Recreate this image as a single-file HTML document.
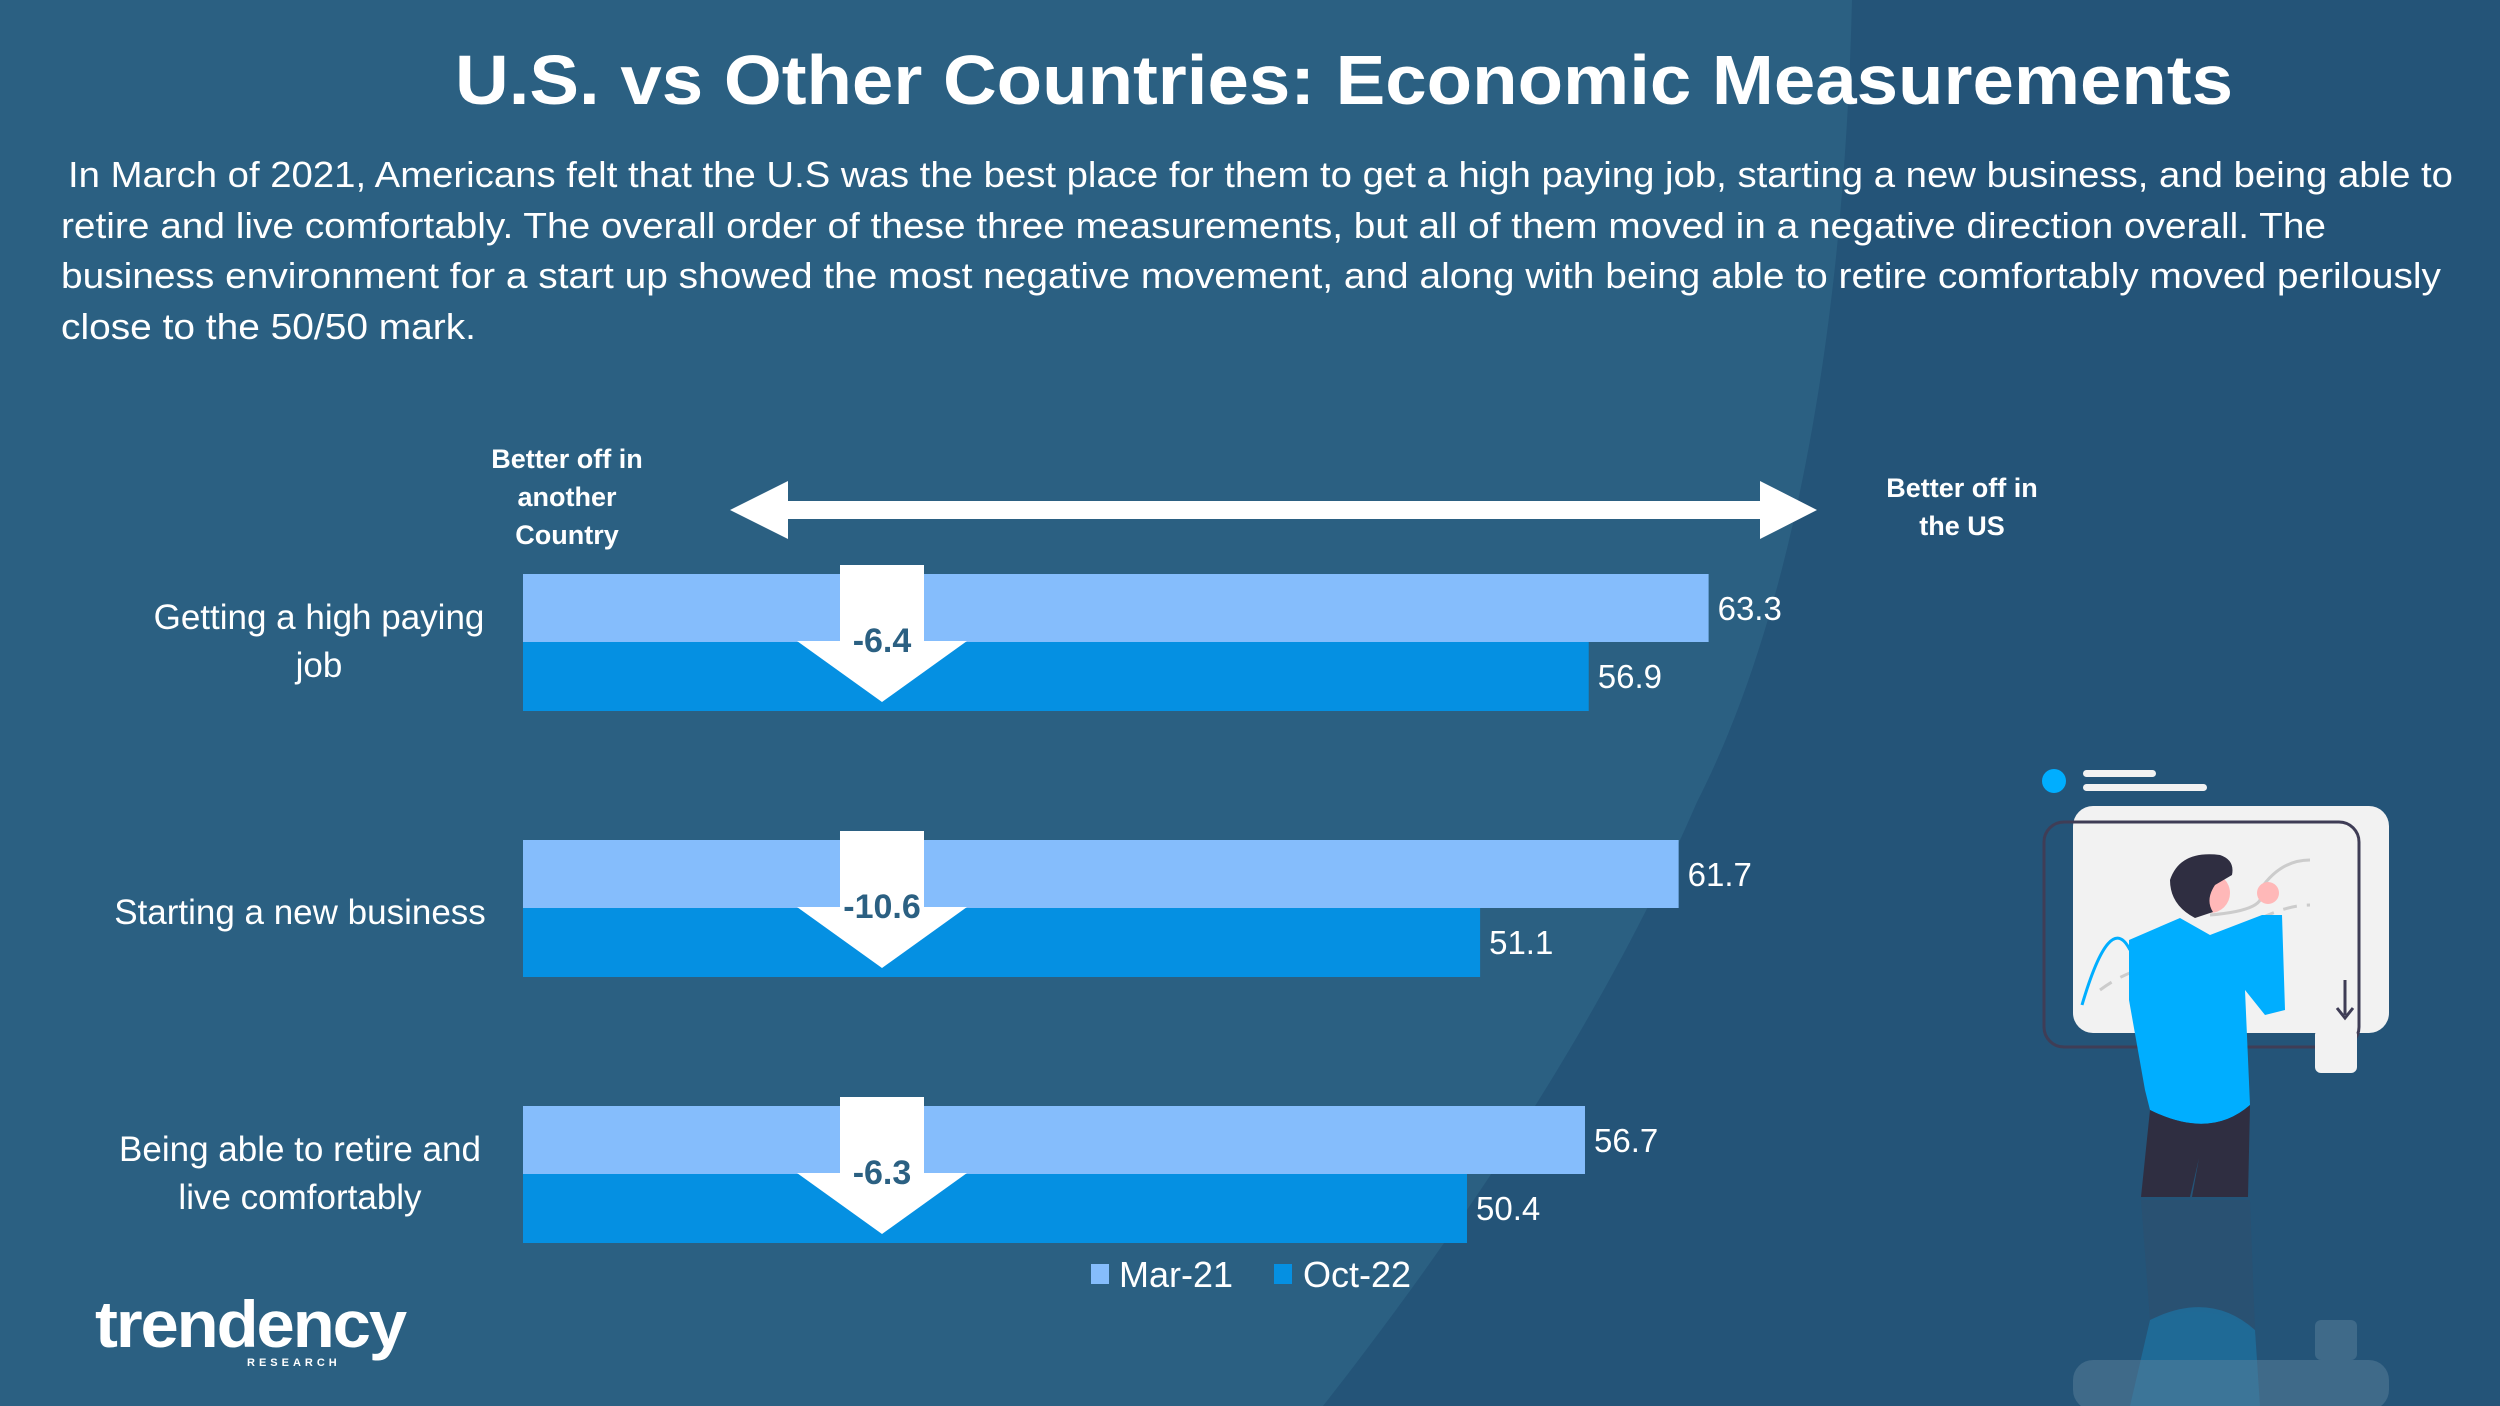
<!DOCTYPE html>
<html><head><meta charset="utf-8"><style>
html,body{margin:0;padding:0;width:2500px;height:1406px;overflow:hidden;background:#2b6082}
svg{display:block}
text{font-family:"Liberation Sans",sans-serif}
</style></head><body>
<svg id="chart" width="2500" height="1406" viewBox="0 0 2500 1406">
<rect x="0" y="0" width="2500" height="1406" fill="#2b6082"/>
<path d="M1852 0 C1845 300 1800 600 1697 802 C1620 980 1500 1180 1323 1406 L2500 1406 L2500 0 Z" fill="#245478"/>
<text x="1344" y="104" text-anchor="middle" font-size="70" font-weight="bold" fill="#fff" textLength="1778" lengthAdjust="spacingAndGlyphs">U.S. vs Other Countries: Economic Measurements</text>
<g fill="#fff" font-size="36">
<text x="68" y="187" textLength="2385" lengthAdjust="spacingAndGlyphs">In March of 2021, Americans felt that the U.S was the best place for them to get a high paying job, starting a new business, and being able to</text>
<text x="61" y="238" textLength="2265" lengthAdjust="spacingAndGlyphs">retire and live comfortably. The overall order of these three measurements, but all of them moved in a negative direction overall. The</text>
<text x="61" y="288" textLength="2380" lengthAdjust="spacingAndGlyphs">business environment for a start up showed the most negative movement, and along with being able to retire comfortably moved perilously</text>
<text x="61" y="339" textLength="415" lengthAdjust="spacingAndGlyphs">close to the 50/50 mark.</text>
</g>
<g fill="#fff" font-size="27" font-weight="bold" text-anchor="middle">
<text x="567" y="468">Better off in</text><text x="567" y="506">another</text><text x="567" y="544">Country</text>
</g>
<g fill="#fff" font-size="27" font-weight="bold" text-anchor="middle">
<text x="1962" y="497">Better off in</text><text x="1962" y="535">the US</text>
</g>
<polygon points="730,510 788,481 788,501 1760,501 1760,481 1817,510 1760,539 1760,519 788,519 788,539" fill="#fff"/>
<g id="bars"></g>
<g font-size="36" fill="#fff">
<rect x="1091" y="1264" width="18" height="20" fill="#85bdfc"/>
<text x="1119" y="1287">Mar-21</text>
<rect x="1274" y="1264" width="18" height="20" fill="#0590e2"/>
<text x="1303" y="1287">Oct-22</text>
</g>
<g>
<text x="95" y="1347" font-size="66" font-weight="bold" fill="#fff" textLength="310" lengthAdjust="spacingAndGlyphs" letter-spacing="-2">trendency</text>
<text x="247" y="1366" font-size="11" font-weight="bold" fill="#fff" letter-spacing="4">RESEARCH</text>
</g>
<g>
<circle cx="2054" cy="781" r="12" fill="#00aeff"/>
<rect x="2083" y="770" width="73" height="7" rx="3.5" fill="#f2f2f2"/>
<rect x="2083" y="784" width="124" height="7" rx="3.5" fill="#f2f2f2"/>
<rect x="2073" y="806" width="316" height="227" rx="20" fill="#f2f2f2"/>
<rect x="2044" y="822" width="315" height="225" rx="20" fill="none" stroke="#3f3d56" stroke-width="3"/>
<path d="M2082 1005 Q2110 910 2130 950" stroke="#00aeff" stroke-width="3" fill="none"/>
<path d="M2210 915 Q2270 910 2260 890 Q2280 860 2310 860" stroke="#ccc" stroke-width="3" fill="none"/>
<path d="M2100 990 Q2140 960 2200 960 M2240 930 Q2280 905 2310 905" stroke="#ccc" stroke-width="3" fill="none" stroke-dasharray="14 10"/>
<path d="M2129 940 L2180 918 L2210 935 L2262 915 L2282 915 L2285 1010 L2265 1015 L2245 990 L2250 1105 Q2210 1140 2150 1110 L2145 1090 L2129 1000 Z" fill="#00aeff"/>
<path d="M2150 1110 Q2210 1140 2250 1105 L2248 1197 L2192 1197 L2199 1158 L2190 1197 L2141 1197 Z" fill="#2f2e41"/>
<circle cx="2210" cy="893" r="20" fill="#ffb8b8"/>
<circle cx="2268" cy="893" r="11" fill="#ffb8b8"/>
<path d="M2170 880 Q2180 850 2220 855 Q2235 860 2232 875 L2215 885 Q2205 900 2213 912 L2195 918 Q2170 905 2170 880 Z" fill="#2f2e41"/>
<rect x="2315" y="1029" width="42" height="44" rx="6" fill="#f2f2f2"/>
<path d="M2345 980 L2345 1015 M2337 1008 L2345 1018 L2353 1008" stroke="#3f3d56" stroke-width="3" fill="none"/>
<path d="M2141 1200 L2250 1200 L2255 1330 Q2210 1300 2150 1320 Z" fill="#2a5070" opacity="0.8"/>
<path d="M2130 1406 L2150 1320 Q2210 1290 2255 1330 L2260 1406 Z" fill="#1e6f9e" opacity="0.8"/>
<rect x="2073" y="1360" width="316" height="50" rx="20" fill="#5a7f9a" opacity="0.5"/>
<rect x="2315" y="1320" width="42" height="40" rx="6" fill="#5a7f9a" opacity="0.5"/>
</g>
</svg>
<script>
const categories = ["Getting a high paying job", "Starting a new business", "Being able to retire and live comfortably"];
const labelLines = [["Getting a high paying", "job"], ["Starting a new business"], ["Being able to retire and", "live comfortably"]];
const mar21 = [63.3, 61.7, 56.7];
const oct22 = [56.9, 51.1, 50.4];

const NS = "http://www.w3.org/2000/svg";
const g = document.getElementById("bars");
const x0 = 523, pxPerUnit = 18.73;
const xScale = v => x0 + v * pxPerUnit;
const groupTop = i => 574 + i * 266;
const barH = 68;
function mk(tag, attrs, parent) {
  const e = document.createElementNS(NS, tag);
  for (const k in attrs) e.setAttribute(k, attrs[k]);
  (parent || g).appendChild(e);
  return e;
}
categories.forEach((c, i) => {
  const y = groupTop(i);
  const grp = mk("g", {});
  
  
  const b1 = mk("rect", {x: x0, y: y, width: xScale(mar21[i]) - x0, height: barH, fill: "#85bdfc"}, grp);
  
  
  const b2 = mk("rect", {x: x0, y: y + barH, width: xScale(oct22[i]) - x0, height: barH + 1, fill: "#0590e2"}, grp);
  
  
  const v1 = mk("text", {x: xScale(mar21[i]) + 9, y: y + 46, fill: "#fff", "font-size": 33}, grp);
  v1.textContent = mar21[i].toFixed(1);
  
  
  const v2 = mk("text", {x: xScale(oct22[i]) + 9, y: y + barH + 46, fill: "#fff", "font-size": 33}, grp);
  v2.textContent = oct22[i].toFixed(1);
  
  
  const cx = 882, top = y - 9, neck = y + 67, tip = y + barH + 60;
  const arr = mk("polygon", {points: `${cx-42},${top} ${cx+42},${top} ${cx+42},${neck} ${cx+85},${neck} ${cx},${tip} ${cx-85},${neck} ${cx-42},${neck}`, fill: "#fff"}, grp);
  
  
  const d = mk("text", {x: cx, y: y + 78, "text-anchor": "middle", fill: "#2b6082", "font-size": 34, "font-weight": "bold"}, grp);
  d.textContent = (oct22[i] - mar21[i]).toFixed(1);
  
  
  const lines = labelLines[i];
  const cxl = i === 0 ? 319 : 300;
  const startY = lines.length === 1 ? y + 84 : y + 55;
  lines.forEach((ln, j) => {
    const t = mk("text", {x: cxl, y: startY + j * 48, "text-anchor": "middle", fill: "#fff", "font-size": 35}, grp);
    t.textContent = ln;
    
    
  });
});
</script>
</body></html>
